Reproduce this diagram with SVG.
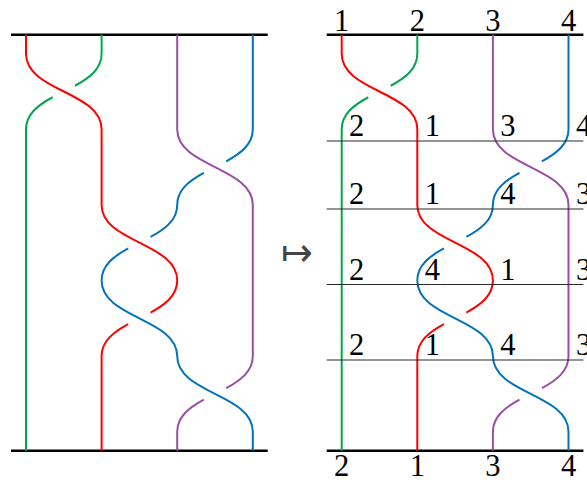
<svg xmlns="http://www.w3.org/2000/svg" xmlns:xlink="http://www.w3.org/1999/xlink" width="587" height="480" viewBox="0 0 587 480">
<style>
.s{fill:none;stroke-width:2;stroke-linecap:butt}
.red{stroke:#ff0000}
.green{stroke:#00a651}
.purple{stroke:#984ea3}
.blue{stroke:#0072bc}
.bar{stroke:#000;stroke-width:2.5}
.thin{stroke:#2a2a2a;stroke-width:1.2}
text.lab{font-family:'Liberation Serif','Times New Roman',serif;font-size:30.5px;fill:#000;text-anchor:middle}
</style>
<defs>
<g id="braid">
<line class="bar" x1="11" y1="34.7" x2="267.7" y2="34.7"/>
<line class="bar" x1="11" y1="450.7" x2="267.7" y2="450.7"/>
<g id="strands">
<path class="s red" d="M26 34.7V53.7C26 91.5 101.6 91.5 101.6 129.3V204.9C101.6 242.7 177.2 242.7 177.2 280.5C177.2 295.62 165.1 304.69 150.59 312.55M128.21 324.05C113.7 331.91 101.6 340.98 101.6 356.1V450.7"/>
<path class="s green" d="M101.6 34.7V53.7C101.6 68.82 89.5 77.89 74.99 85.75M52.61 97.25C38.1 105.11 26 114.18 26 129.3V450.7"/>
<path class="s purple" d="M177.2 34.7V129.3C177.2 167.1 252.8 167.1 252.8 204.9V356.1C252.8 371.22 240.7 380.29 226.19 388.15M203.81 399.65C189.3 407.51 177.2 416.58 177.2 431.7V450.7"/>
<path class="s blue" d="M252.8 34.7V129.3C252.8 144.42 240.7 153.49 226.19 161.35M203.81 172.85C189.3 180.71 177.2 189.78 177.2 204.9C177.2 220.02 165.1 229.09 150.59 236.95M128.21 248.45C113.7 256.31 101.6 265.38 101.6 280.5C101.6 318.3 177.2 318.3 177.2 356.1C177.2 393.9 252.8 393.9 252.8 431.7V450.7"/>
</g>
</g>
</defs>
<g id="left-braid">
<use xlink:href="#braid" href="#braid"/>
</g>
<g id="mapsto">
<text x="297" y="265" font-family="DejaVu Sans, sans-serif" font-weight="200" font-size="38" fill="#444" text-anchor="middle">↦</text>
</g>
<g id="right-braid">
<use xlink:href="#braid" href="#braid" transform="translate(315.7,0)"/>
<g id="levels">
<line class="thin" x1="326.7" y1="141" x2="583.4" y2="141"/>
<line class="thin" x1="326.7" y1="209" x2="583.4" y2="209"/>
<line class="thin" x1="326.7" y1="284.5" x2="583.4" y2="284.5"/>
<line class="thin" x1="326.7" y1="360" x2="583.4" y2="360"/>
</g>
<g id="labels">
<text class="lab" x="341.7" y="30.7">1</text>
<text class="lab" x="417.3" y="30.7">2</text>
<text class="lab" x="492.9" y="30.7">3</text>
<text class="lab" x="568.5" y="30.7">4</text>
<text class="lab" x="356.7" y="135.7">2</text>
<text class="lab" x="432.3" y="135.7">1</text>
<text class="lab" x="507.9" y="135.7">3</text>
<text class="lab" x="583.5" y="135.7">4</text>
<text class="lab" x="356.7" y="204">2</text>
<text class="lab" x="432.3" y="204">1</text>
<text class="lab" x="507.9" y="204">4</text>
<text class="lab" x="583.5" y="204">3</text>
<text class="lab" x="356.7" y="279.5">2</text>
<text class="lab" x="432.3" y="279.5">4</text>
<text class="lab" x="507.9" y="279.5">1</text>
<text class="lab" x="583.5" y="279.5">3</text>
<text class="lab" x="356.7" y="355">2</text>
<text class="lab" x="432.3" y="355">1</text>
<text class="lab" x="507.9" y="355">4</text>
<text class="lab" x="583.5" y="355">3</text>
<text class="lab" x="341.7" y="476">2</text>
<text class="lab" x="417.3" y="476">1</text>
<text class="lab" x="492.9" y="476">3</text>
<text class="lab" x="568.5" y="476">4</text>
</g>
</g>
</svg>
